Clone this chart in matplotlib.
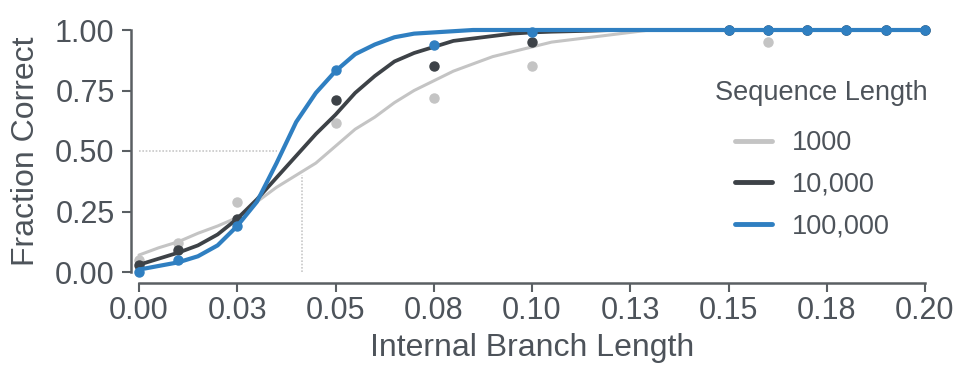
import matplotlib
matplotlib.use("Agg")
import matplotlib.pyplot as plt

# fitted curves
curve_x = [0.0, 0.005, 0.01, 0.015, 0.02, 0.025, 0.03, 0.035, 0.04, 0.045,
           0.05, 0.055, 0.06, 0.065, 0.07, 0.075, 0.08, 0.085, 0.09, 0.095,
           0.10, 0.105, 0.11, 0.115, 0.12, 0.125, 0.13, 0.20]
curve_1k = [0.07, 0.10, 0.125, 0.16, 0.19, 0.225, 0.29, 0.35, 0.40, 0.45,
            0.52, 0.59, 0.64, 0.70, 0.75, 0.79, 0.83, 0.86, 0.89, 0.91,
            0.93, 0.95, 0.96, 0.97, 0.98, 0.99, 1.0, 1.0]
curve_10k = [0.03, 0.055, 0.08, 0.11, 0.155, 0.22, 0.30, 0.39, 0.48, 0.57,
             0.65, 0.74, 0.81, 0.87, 0.905, 0.93, 0.955, 0.965, 0.975, 0.985,
             0.99, 0.993, 0.995, 0.997, 1.0, 1.0, 1.0, 1.0]
curve_100k = [0.01, 0.025, 0.04, 0.065, 0.11, 0.19, 0.29, 0.45, 0.62, 0.74,
              0.83, 0.90, 0.94, 0.97, 0.985, 0.99, 0.995, 1.0, 1.0, 1.0,
              1.0, 1.0, 1.0, 1.0, 1.0, 1.0, 1.0, 1.0]

# observed points
point_x = [0.0, 0.01, 0.025, 0.05, 0.075, 0.10, 0.15, 0.16, 0.17, 0.18, 0.19, 0.20]
points_1k = [0.05, 0.12, 0.29, 0.615, 0.72, 0.85, 1.0, 0.95, 1.0, 1.0, 1.0, 1.0]
points_10k = [0.03, 0.09, 0.22, 0.71, 0.85, 0.95, 1.0, 1.0, 1.0, 1.0, 1.0, 1.0]
points_100k = [0.0, 0.05, 0.19, 0.835, 0.94, 0.99, 1.0, 1.0, 1.0, 1.0, 1.0, 1.0]

series_labels = ["1000", "10,000", "100,000"]
x_ticks = [0.0, 0.025, 0.05, 0.075, 0.10, 0.125, 0.15, 0.175, 0.20]
x_tick_labels = ["0.00", "0.03", "0.05", "0.08", "0.10", "0.13", "0.15", "0.18", "0.20"]
y_ticks = [0.0, 0.25, 0.50, 0.75, 1.00]
y_tick_labels = ["0.00", "0.25", "0.50", "0.75", "1.00"]

# reference guides (dotted)
guide_y, guide_x_end = 0.5, 0.035
guide_x, guide_y_end = 0.0414, 0.40

colors = ["#c4c4c4", "#3d4247", "#2f7fc1"]
text_col = "#4d535a"
axis_col = "#5a5f63"

plt.rcParams["font.family"] = ["Liberation Sans", "DejaVu Sans"]

fig = plt.figure(figsize=(9.58, 3.70), dpi=100)
W, H = 958, 370
ax_l, ax_r, ax_t, ax_b = 139, 925, 30, 272
ax = fig.add_axes([ax_l / W, 1 - ax_b / H, (ax_r - ax_l) / W, (ax_b - ax_t) / H])
ax.set_xlim(0, 0.2)
ax.set_ylim(0, 1)

ax.plot([0, guide_x_end], [guide_y, guide_y], color="#c8c8c8", lw=1.2, ls=(0, (1, 1)), zorder=1)
ax.plot([guide_x, guide_x], [0, guide_y_end], color="#c8c8c8", lw=1.2, ls=(0, (1, 1)), zorder=1)

curves = [curve_1k, curve_10k, curve_100k]
points = [points_1k, points_10k, points_100k]
widths = [2.2, 2.7, 3.0]
for i, (cy, py) in enumerate(zip(curves, points)):
    ax.plot(curve_x, cy, color=colors[i], lw=widths[i], zorder=2 + i,
            solid_capstyle="round", label=series_labels[i], clip_on=False)
    ax.plot(point_x, py, ls="none", marker="o", ms=6.5, color=colors[i],
            zorder=2.5 + i, clip_on=False)

for s in ["top", "right"]:
    ax.spines[s].set_visible(False)
ax.spines["left"].set_position(("outward", 6))
ax.spines["bottom"].set_position(("outward", 8))
ax.spines["left"].set_bounds(0, 1)
ax.spines["bottom"].set_bounds(0, 0.2)
for s in ["left", "bottom"]:
    ax.spines[s].set_color(axis_col)
    ax.spines[s].set_linewidth(1.8)

ax.set_xticks(x_ticks)
ax.set_xticklabels(x_tick_labels, fontsize=22, color=text_col)
ax.set_yticks(y_ticks)
ax.set_yticklabels(y_tick_labels, fontsize=22, color=text_col)
ax.tick_params(axis="both", colors=axis_col, width=1.5, length=6.5)
ax.tick_params(axis="x", pad=3, labelcolor=text_col)
ax.tick_params(axis="y", pad=5, labelcolor=text_col)

ax.set_xlabel("Internal Branch Length", fontsize=23, color=text_col)
ax.xaxis.set_label_coords(0.5, -(348 - ax_b) / (ax_b - ax_t))
ax.xaxis.label.set_va("center")
ax.set_ylabel("Fraction Correct", fontsize=23, color=text_col)
ax.yaxis.set_label_coords(-(ax_l - 26) / (ax_r - ax_l), 0.5)
ax.yaxis.label.set_va("center")

fig.text(715 / W, 1 - 93 / H, "Sequence Length", fontsize=19.5, color=text_col,
         ha="left", va="center")
leg = ax.legend(loc="upper left",
                bbox_to_anchor=(735 / W, 1 - 130 / H), bbox_transform=fig.transFigure,
                frameon=False, fontsize=19.5, borderpad=0, borderaxespad=0,
                handlelength=1.35, handletextpad=0.75, labelspacing=0.58)
for t in leg.get_texts():
    t.set_color(text_col)
for ln in leg.get_lines():
    ln.set_linewidth(3.5)

fig.savefig("out.png", dpi=100)
